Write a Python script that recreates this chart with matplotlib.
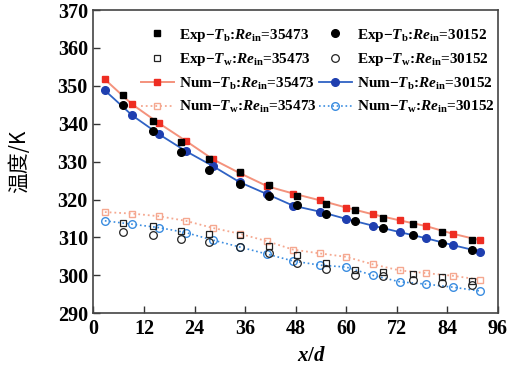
import matplotlib
matplotlib.use('Agg')
import matplotlib.pyplot as plt

plt.rcParams['font.family'] = ['Liberation Serif', 'DejaVu Serif']
plt.rcParams['font.weight'] = 'bold'
plt.rcParams['mathtext.fontset'] = 'custom'
plt.rcParams['mathtext.rm'] = 'Liberation Serif:bold'
plt.rcParams['mathtext.it'] = 'Liberation Serif:italic:bold'
plt.rcParams['mathtext.bf'] = 'Liberation Serif:bold'

# measured positions
x_exp = [6.9, 14.05, 20.8, 27.5, 34.7, 41.6, 48.4, 55.3, 62.1, 68.8, 75.8, 82.7, 89.9]
tb_exp_35473 = [347.7, 340.7, 335.2, 330.6, 327.3, 323.8, 320.9, 318.9, 317.2, 315.1, 313.5, 311.5, 309.3]
tb_exp_30152 = [344.9, 338.1, 332.6, 327.9, 324.2, 320.9, 318.5, 316.3, 314.3, 312.6, 310.6, 308.5, 306.6]
tw_exp_35473 = [313.9, 312.95, 311.7, 310.8, 310.6, 307.8, 305.3, 303.3, 301.4, 300.95, 300.3, 299.5, 298.6]
tw_exp_30152 = [311.4, 310.7, 309.6, 308.9, 307.6, 305.8, 303.3, 301.8, 300.0, 299.8, 298.75, 298.0, 297.6]

# simulation
x_num = [2.7, 9.2, 15.6, 21.9, 28.4, 34.7, 41.3, 47.4, 53.8, 60.0, 66.4, 72.8, 79.0, 85.3, 91.7]
tb_num_35473 = [351.7, 345.1, 340.1, 335.5, 330.6, 327.0, 323.5, 321.6, 319.8, 317.9, 316.1, 314.5, 313.0, 311.0, 309.3]
tb_num_30152 = [348.8, 342.2, 337.2, 332.8, 328.8, 324.6, 321.4, 318.4, 316.8, 314.9, 313.1, 311.4, 309.8, 308.0, 306.3]
tw_num_35473 = [316.7, 316.3, 315.6, 314.4, 312.5, 311.0, 309.0, 306.8, 305.8, 304.9, 302.9, 301.3, 300.6, 299.9, 298.9]
tw_num_30152 = [314.4, 313.5, 312.6, 311.3, 309.3, 307.5, 305.6, 303.8, 302.7, 302.2, 300.0, 298.3, 297.7, 296.9, 295.9]

xticks = [0, 12, 24, 36, 48, 60, 72, 84, 96]
yticks = [290, 300, 310, 320, 330, 340, 350, 360, 370]

fig = plt.figure(figsize=(5.27, 3.68), dpi=100)
ax = fig.add_axes([0.1774, 0.1486, 0.7670, 0.8242])

ms = 5
l_nb35, = ax.plot(x_num, tb_num_35473, '-s', color='#f4927c', mfc='#ee2d22', mec='#ee2d22', ms=ms, lw=1.4,
                  label=r'Num$-T_{\rm b}$:$Re_{\rm in}$=35473')
l_nw35, = ax.plot(x_num, tw_num_35473, ':s', color='#f5a890', mfc='none', mec='#f5a890', ms=ms, lw=1.3,
                  label=r'Num$-T_{\rm w}$:$Re_{\rm in}$=35473')
l_nb30, = ax.plot(x_num, tb_num_30152, '-o', color='#2f62c4', mfc='#1f3fb0', mec='#1f3fb0', ms=ms + 0.5, lw=1.3,
                  label=r'Num$-T_{\rm b}$:$Re_{\rm in}$=30152')
l_nw30, = ax.plot(x_num, tw_num_30152, ':o', color='#3b8de0', mfc='none', mec='#3b8de0', ms=ms + 0.5, lw=1.2,
                  label=r'Num$-T_{\rm w}$:$Re_{\rm in}$=30152')

l_eb35, = ax.plot(x_exp, tb_exp_35473, 's', color='black', ms=ms,
                  label=r'Exp$-T_{\rm b}$:$Re_{\rm in}$=35473')
l_ew35, = ax.plot(x_exp, tw_exp_35473, 's', mfc='none', mec='#222222', mew=0.9, ms=ms,
                  label=r'Exp$-T_{\rm w}$:$Re_{\rm in}$=35473')
l_eb30, = ax.plot(x_exp, tb_exp_30152, 'o', color='black', ms=ms + 0.5,
                  label=r'Exp$-T_{\rm b}$:$Re_{\rm in}$=30152')
l_ew30, = ax.plot(x_exp, tw_exp_30152, 'o', mfc='none', mec='#222222', mew=0.9, ms=ms + 0.5,
                  label=r'Exp$-T_{\rm w}$:$Re_{\rm in}$=30152')

handles = [l_eb35, l_ew35, l_nb35, l_nw35, l_eb30, l_ew30, l_nb30, l_nw30]
ax.legend(handles=handles, ncol=2, loc='upper right', bbox_to_anchor=(1.015, 0.975), frameon=False,
          fontsize=11, handlelength=2.2, handletextpad=0.3, columnspacing=0.14, labelspacing=0.48,
          borderaxespad=0.2)

ax.set_xlim(0, 96)
ax.set_ylim(290, 370)
ax.set_xticks(xticks)
ax.set_yticks(yticks)
ax.tick_params(direction='in', length=5, width=1.0, labelsize=14.5, top=False, right=False, colors='#333333',
               labelcolor='black', pad=4)
for s in ax.spines.values():
    s.set_linewidth(1.2)
    s.set_color('#444444')

ax.set_xlabel(r'$x/d$', fontsize=15)
ax.xaxis.set_label_coords(0.54, -0.112)
ax.set_ylabel('温度/K', fontsize=15, family=['Noto Sans CJK SC', 'DejaVu Sans'], fontweight='normal')
ax.yaxis.set_label_coords(-0.157, 0.5)

fig.savefig('out.png', dpi=100)
